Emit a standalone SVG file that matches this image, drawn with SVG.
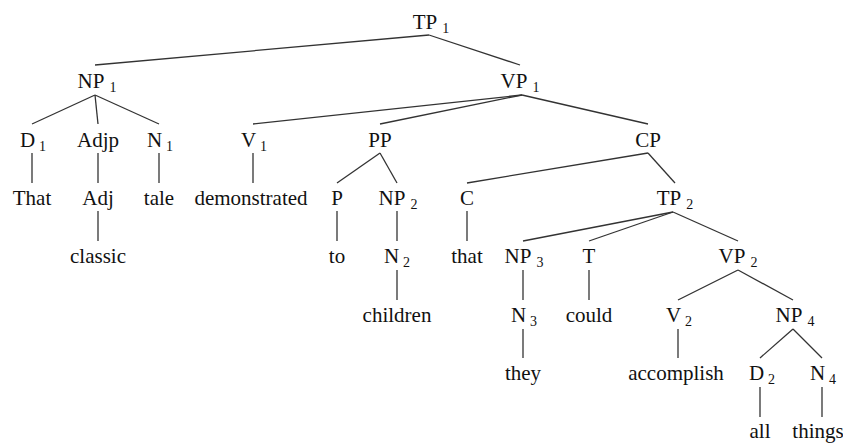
<svg xmlns="http://www.w3.org/2000/svg" width="843" height="443" viewBox="0 0 843 443">
<style>
text{font-family:"Liberation Serif","Times New Roman",serif;font-size:21px;fill:#111;text-anchor:middle}
.s{font-size:14px}
#edges line{stroke:#333;stroke-width:1.3}
</style>
<rect width="843" height="443" fill="#fff"/>
<g id="edges">
<line x1="429" y1="35" x2="95" y2="65"/>
<line x1="429" y1="35" x2="520" y2="65"/>
<line x1="95" y1="95" x2="32" y2="124"/>
<line x1="95" y1="95" x2="98" y2="124"/>
<line x1="95" y1="95" x2="159" y2="124"/>
<line x1="522" y1="95" x2="253" y2="124"/>
<line x1="522" y1="95" x2="380" y2="124"/>
<line x1="522" y1="95" x2="648" y2="124"/>
<line x1="32" y1="153" x2="32" y2="183"/>
<line x1="98" y1="153" x2="98" y2="183"/>
<line x1="159" y1="153" x2="159" y2="183"/>
<line x1="253" y1="153" x2="253" y2="183"/>
<line x1="380" y1="153" x2="337" y2="183"/>
<line x1="380" y1="153" x2="397" y2="183"/>
<line x1="648" y1="153" x2="467" y2="183"/>
<line x1="648" y1="153" x2="675" y2="183"/>
<line x1="98" y1="211" x2="98" y2="241"/>
<line x1="337" y1="211" x2="337" y2="241"/>
<line x1="397" y1="211" x2="397" y2="241"/>
<line x1="467" y1="211" x2="467" y2="241"/>
<line x1="673" y1="212" x2="523" y2="241"/>
<line x1="673" y1="212" x2="589" y2="241"/>
<line x1="673" y1="212" x2="738" y2="241"/>
<line x1="397" y1="270" x2="397" y2="300"/>
<line x1="523" y1="270" x2="523" y2="300"/>
<line x1="589" y1="270" x2="589" y2="300"/>
<line x1="738" y1="270" x2="678" y2="300"/>
<line x1="738" y1="270" x2="793" y2="300"/>
<line x1="523" y1="329" x2="523" y2="358"/>
<line x1="678" y1="329" x2="678" y2="358"/>
<line x1="793" y1="329" x2="760" y2="358"/>
<line x1="793" y1="329" x2="822" y2="358"/>
<line x1="760" y1="387" x2="760" y2="417"/>
<line x1="822" y1="387" x2="822" y2="417"/>
</g>
<g id="TP1"><text x="431" y="29">TP<tspan class="s" dx="5" dy="4">1</tspan></text></g>
<g id="NP1"><text x="97" y="88">NP<tspan class="s" dx="5" dy="4">1</tspan></text></g>
<g id="VP1"><text x="520" y="88">VP<tspan class="s" dx="5" dy="4">1</tspan></text></g>
<g id="D1"><text x="33" y="147">D<tspan class="s" dx="4" dy="4">1</tspan></text></g>
<g id="Adjp"><text x="98" y="147">Adjp</text></g>
<g id="N1"><text x="160" y="147">N<tspan class="s" dx="4" dy="4">1</tspan></text></g>
<g id="V1"><text x="254" y="147">V<tspan class="s" dx="4" dy="4">1</tspan></text></g>
<g id="PP"><text x="380" y="147">PP</text></g>
<g id="CP"><text x="648" y="147">CP</text></g>
<g id="That"><text x="32" y="205">That</text></g>
<g id="Adj"><text x="98" y="205">Adj</text></g>
<g id="tale"><text x="159" y="205">tale</text></g>
<g id="demonstrated"><text x="251" y="205">demonstrated</text></g>
<g id="P"><text x="337" y="205">P</text></g>
<g id="NP2"><text x="398" y="205">NP<tspan class="s" dx="5" dy="4">2</tspan></text></g>
<g id="C"><text x="467" y="205">C</text></g>
<g id="TP2"><text x="675" y="205">TP<tspan class="s" dx="5" dy="4">2</tspan></text></g>
<g id="classic"><text x="98" y="263">classic</text></g>
<g id="to"><text x="337" y="263">to</text></g>
<g id="N2"><text x="397" y="263">N<tspan class="s" dx="4" dy="4">2</tspan></text></g>
<g id="that"><text x="467" y="263">that</text></g>
<g id="NP3"><text x="524" y="263">NP<tspan class="s" dx="5" dy="4">3</tspan></text></g>
<g id="T"><text x="589" y="263">T</text></g>
<g id="VP2"><text x="738" y="263">VP<tspan class="s" dx="5" dy="4">2</tspan></text></g>
<g id="children"><text x="397" y="322">children</text></g>
<g id="N3"><text x="524" y="322">N<tspan class="s" dx="4" dy="4">3</tspan></text></g>
<g id="could"><text x="589" y="322">could</text></g>
<g id="V2"><text x="679" y="322">V<tspan class="s" dx="4" dy="4">2</tspan></text></g>
<g id="NP4"><text x="795" y="322">NP<tspan class="s" dx="5" dy="4">4</tspan></text></g>
<g id="they"><text x="523" y="380">they</text></g>
<g id="accomplish"><text x="676" y="380">accomplish</text></g>
<g id="D2"><text x="762" y="380">D<tspan class="s" dx="4" dy="4">2</tspan></text></g>
<g id="N4"><text x="823" y="380">N<tspan class="s" dx="4" dy="4">4</tspan></text></g>
<g id="all"><text x="760" y="438">all</text></g>
<g id="things"><text x="818" y="438">things</text></g>
</svg>
